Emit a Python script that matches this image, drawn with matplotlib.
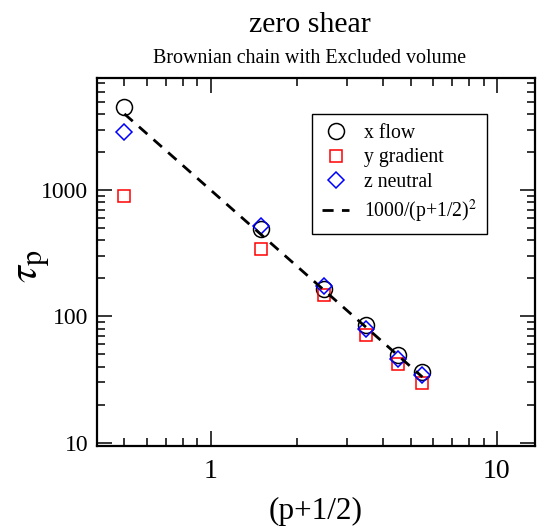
import numpy as np
import matplotlib
matplotlib.use('Agg')
import matplotlib.pyplot as plt
import matplotlib.ticker as ticker

plt.rcParams['font.family'] = ['Liberation Serif', 'DejaVu Serif']
plt.rcParams['mathtext.fontset'] = 'stix'

# mode index shifted by 1/2
p_half = [0.5, 1.5, 2.5, 3.5, 4.5, 5.5]
tau_x = [4520, 495, 165, 86, 49, 36.5]
tau_y = [895, 340, 148, 71, 42, 29.5]
tau_z = [2900, 515, 174, 80, 46, 34.5]

# guide line 1000/(p+1/2)^2 as labelled in the legend
fit_amp = 1000
fit_exp = 2

fig = plt.figure(figsize=(5.37, 5.28), dpi=100)
ax = fig.add_axes([0.180, 0.1553, 0.8163, 0.697])

fit_x = np.array([p_half[0], p_half[-1]])
fit_y = fit_amp / fit_x ** fit_exp

ax.plot(p_half, tau_x, 'o', mfc='none', mec='black', ms=11.5, mew=1.1, label='x flow')
ax.plot(p_half, tau_y, 's', mfc='none', mec='#ff0000', ms=9.2, mew=1.1, label='y gradient')
ax.plot(p_half, tau_z, 'D', mfc='none', mec='#0000ff', ms=8.0, mew=1.1, label='z neutral')
ax.plot(fit_x, fit_y, color='black', lw=2.0, dashes=(4, 3), label=r'1000/(p+1/2)$^2$')

ax.set_xscale('log')
ax.set_yscale('log')
ax.set_xlim(0.4, 13.6)
ax.set_ylim(9.42, 7690)

fmt = ticker.FuncFormatter(lambda v, pos: f'{v:g}')
ax.xaxis.set_major_formatter(fmt)
ax.yaxis.set_major_formatter(fmt)
ax.xaxis.set_minor_formatter(ticker.NullFormatter())
ax.yaxis.set_minor_formatter(ticker.NullFormatter())

ax.tick_params(which='both', direction='in', top=True, right=True, width=1.1)
ax.tick_params(which='major', length=11)
ax.tick_params(which='minor', length=5.5)
ax.tick_params(axis='x', which='major', labelsize=20, pad=9)
ax.tick_params(axis='y', which='major', labelsize=17, pad=6)
for s in ax.spines.values():
    s.set_linewidth(1.6)

ax.set_xlabel('(p+1/2)', fontsize=22.5, labelpad=10)
fig.text(34 / 537, 1 - 266 / 528, r'$\tau_{\rm p}$', rotation=90, ha='center', va='center', fontsize=31)

fig.text(0.577, 0.953, 'zero shear', ha='center', va='center', fontsize=21.5)
fig.text(0.577, 0.889, 'Brownian chain with Excluded volume', ha='center', va='center', fontsize=14.4)

leg = ax.legend(loc='upper left', bbox_to_anchor=(0.581, 0.784), bbox_transform=fig.transFigure,
                fontsize=14.2, fancybox=False, framealpha=1, edgecolor='black',
                borderaxespad=0, handlelength=1.4, labelspacing=0.28, borderpad=0.5,
                handletextpad=0.75)
leg.get_frame().set_linewidth(1.0)

fig.savefig('out.png', dpi=100)
